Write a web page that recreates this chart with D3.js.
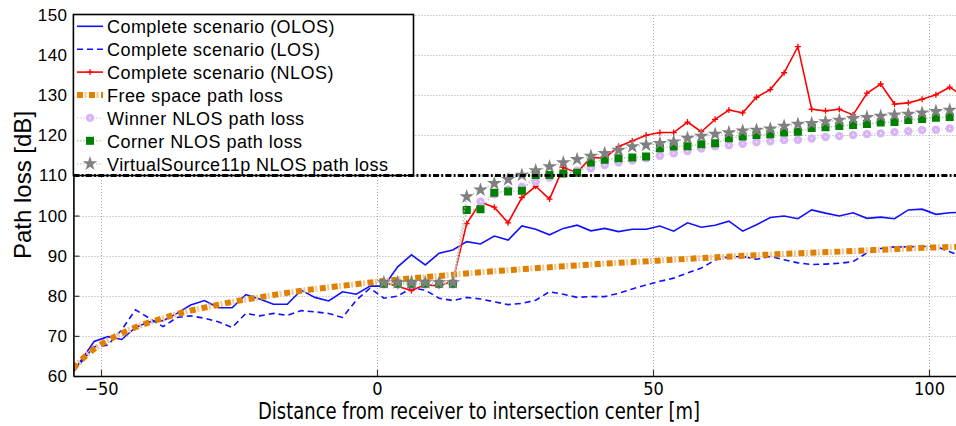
<!DOCTYPE html>
<html><head><meta charset="utf-8">
<script src="https://cdn.jsdelivr.net/npm/d3@7"></script>
<style>
body{margin:0;background:#fff;}
svg{display:block;font-family:"Liberation Sans",Arial,Helvetica,sans-serif;}
.narrow{font-family:"Liberation Sans Narrow","Arial Narrow","DejaVu Sans Condensed",sans-serif;}
</style>
</head><body>
<svg id="c" width="956" height="426"></svg>
<script>
// ---------------- data ----------------
const gridX = [-55, -51.25, -48.75, -46.25, -43.75, -41.25, -38.75, -36.25, -33.75, -31.25, -28.75, -26.25,
  -23.75, -21.25, -18.75, -16.25, -13.75, -11.25, -8.75, -6.25, -3.75, -1.25, 1.25, 3.75, 6.25, 8.75, 11.25,
  13.75, 16.25, 18.75, 21.25, 23.75, 26.25, 28.75, 31.25, 33.75, 36.25, 38.75, 41.25, 43.75, 46.25, 48.75,
  51.25, 53.75, 56.25, 58.75, 61.25, 63.75, 66.25, 68.75, 71.25, 73.75, 76.25, 78.75, 81.25, 83.75, 86.25,
  88.75, 91.25, 93.75, 96.25, 98.75, 101.25, 103.75, 106.25];
const olos = [61.1, 68.6, 69.8, 69.1, 72.1, 73.5, 73.8, 75.6, 77.7, 78.8, 77.0, 77.0,
  80.3, 79.2, 77.9, 77.9, 81.4, 79.6, 78.7, 81.0, 80.4, 82.4, 82.4, 87.2, 90.2, 87.7, 90.6,
  91.4, 93.5, 92.9, 94.9, 93.9, 97.4, 96.6, 95.2, 96.8, 97.6, 96.2, 96.8, 96.0, 96.6, 96.6,
  97.4, 96.1, 98.2, 97.1, 97.6, 98.6, 96.1, 97.7, 99.5, 99.9, 99.2, 101.4, 100.6, 99.9, 100.7,
  99.3, 99.6, 99.2, 101.4, 101.6, 100.3, 100.7, 100.8];
const los = [61.1, 67.3, 67.7, 71.5, 76.5, 74.4, 72.3, 74.6, 75.0, 74.4, 73.5, 72.1,
  75.6, 75.0, 75.6, 75.1, 76.3, 76.0, 75.6, 74.6, 78.9, 81.9, 79.4, 79.9, 82.0, 81.4, 79.4,
  78.8, 79.6, 79.2, 78.5, 77.8, 78.1, 78.9, 81.0, 80.4, 79.6, 79.8, 79.8, 80.6, 81.7, 82.7,
  83.6, 84.4, 85.7, 86.9, 88.9, 89.7, 89.8, 89.1, 89.8, 89.0, 88.2, 87.8, 87.9, 88.1, 88.5,
  90.7, 91.8, 92.2, 92.2, 92.3, 92.3, 91.0, 89.7];

const nlosX = [1.25, 3.75, 6.25, 8.75, 11.25, 13.75, 16.25, 18.75, 21.25, 23.75, 26.25, 28.75, 31.25,
  33.75, 36.25, 38.75, 41.25, 43.75, 46.25, 48.75, 51.25, 53.75, 56.25, 58.75, 61.25, 63.75, 66.25,
  68.75, 71.25, 73.75, 76.25, 78.75, 81.25, 83.75, 86.25, 88.75, 91.25, 93.75, 96.25, 98.75, 101.25,
  103.75, 106.25];
const nlos = [83.3, 82.4, 81.3, 82.8, 82.4, 83.7, 98.0, 103.3, 102.1, 98.2, 104.5, 107.3, 104.1,
  112.0, 110.7, 114.5, 114.3, 117.2, 118.6, 120.0, 120.7, 120.7, 123.3, 120.9, 124.0, 126.3, 125.6,
  129.5, 131.4, 135.6, 142.1, 126.5, 126.1, 126.5, 125.1, 130.5, 132.8, 127.8, 128.1, 129.0, 130.1,
  132.0, 129.7];

const modelX = [1.25, 3.75, 6.25, 8.75, 11.25, 13.75, 16.25, 18.75, 21.25, 23.75, 26.25, 28.75, 31.25,
  33.75, 36.25, 38.75, 41.25, 43.75, 46.25, 48.75, 51.25, 53.75, 56.25, 58.75, 61.25, 63.75, 66.25,
  68.75, 71.25, 73.75, 76.25, 78.75, 81.25, 83.75, 86.25, 88.75, 91.25, 93.75, 96.25, 98.75, 101.25,
  103.75];
const winner = [82.8, 82.8, 82.8, 82.8, 82.8, 82.8, 101.5, 103.5, 105.3, 106.5, 107.2, 108.4, 109.5,
  110.5, 111.2, 111.8, 112.6, 113.2, 113.7, 114.3, 114.9, 115.5, 116.1, 116.7, 117.3, 117.5, 117.9,
  118.3, 118.5, 118.8, 118.9, 119.2, 119.6, 119.8, 120.1, 120.3, 120.5, 120.8, 121.0, 121.3, 121.4,
  121.7];
const corner = [83.0, 83.0, 83.0, 83.0, 83.0, 83.0, 101.4, 101.6, 105.7, 106.0, 106.2, 110.1, 110.1,
  110.5, 110.7, 113.2, 113.9, 114.3, 114.5, 114.7, 116.8, 117.2, 117.3, 117.8, 118.0, 119.3, 119.7,
  120.1, 120.3, 120.7, 120.9, 121.8, 122.0, 122.3, 122.6, 122.8, 123.2, 123.3, 123.8, 124.1, 124.4,
  124.6];
const virtualSrc = [83.3, 83.3, 83.3, 83.3, 83.3, 83.3, 104.7, 106.4, 108.0, 109.0, 110.1, 111.2, 112.2,
  113.2, 114.0, 114.8, 115.5, 116.3, 117.2, 117.6, 118.0, 118.4, 119.3, 119.8, 120.3, 120.7, 121.1,
  121.3, 121.6, 122.3, 122.8, 123.0, 123.4, 123.8, 124.2, 124.5, 124.8, 125.1, 125.3, 125.6, 126.0,
  126.3];

const freeX = [-55, -52.5, -50, -47.5, -45, -42.5, -40, -35, -30, -25, -20, -15, -10, -5, 0, 5, 10, 15,
  20, 25, 30, 40, 50, 60, 70, 80, 90, 100, 105];
const freeSpace = [61.9, 65.4, 67.9, 69.8, 71.4, 72.8, 73.9, 75.9, 77.4, 78.8, 79.9, 81.0, 81.9, 82.7,
  83.5, 84.2, 84.8, 85.4, 86.0, 86.5, 87.0, 87.9, 88.7, 89.5, 90.2, 90.8, 91.4, 92.0, 92.2];

const threshold = 110;
const xTicks = [-50, 0, 50, 100];
const yTicks = [60, 70, 80, 90, 100, 110, 120, 130, 140, 150];
const legendNames = ["Complete scenario (OLOS)", "Complete scenario (LOS)", "Complete scenario (NLOS)",
  "Free space path loss", "Winner NLOS path loss", "Corner NLOS path loss", "VirtualSource11p NLOS path loss"];
const xLabel = "Distance from receiver to intersection center [m]";
const yLabel = "Path loss [dB]";

// ---------------- drawing ----------------
const svg = d3.select("#c");
const X0 = 73.4, X1 = 956.6, Y0 = 376, Y1 = 15;
const x = d3.scaleLinear().domain([-55, 105]).range([X0, X1]);
const y = d3.scaleLinear().domain([60, 150]).range([Y0, Y1]);

const C = {
  blue: "#1010ff", red: "#ff0000", orange: "#e07f00", orangeL: "#f5c690",
  lav: "#d7b5f5", lavL: "#e8d6fa", green: "#008000", greenL: "#9fd09f",
  gray: "#808080", grayL: "#c4c4c4"
};

svg.append("defs").append("clipPath").attr("id", "clip")
  .append("rect").attr("x", X0).attr("y", Y1).attr("width", X1 - X0).attr("height", Y0 - Y1);

// grid
const grid = svg.append("g").attr("stroke", "#a8a8a8").attr("stroke-width", 1).attr("stroke-dasharray", "1,2");
grid.selectAll("line.h").data(yTicks.filter(t => t > 60)).join("line")
  .attr("x1", X0).attr("x2", X1).attr("y1", d => Math.round(y(d)) + 0.5).attr("y2", d => Math.round(y(d)) + 0.5);
grid.selectAll("line.v").data(xTicks).join("line")
  .attr("y1", Y1).attr("y2", Y0).attr("x1", d => Math.round(x(d)) + 0.5).attr("x2", d => Math.round(x(d)) + 0.5);

const plot = svg.append("g").attr("clip-path", "url(#clip)");
const line = (xs) => d3.line().x((d, i) => x(xs[i])).y(d => y(d));

// OLOS
plot.append("path").datum(olos).attr("d", line(gridX)).attr("fill", "none")
  .attr("stroke", C.blue).attr("stroke-width", 1.6);
// LOS
plot.append("path").datum(los).attr("d", line(gridX)).attr("fill", "none")
  .attr("stroke", C.blue).attr("stroke-width", 1.6).attr("stroke-dasharray", "6,4");
// NLOS
plot.append("path").datum(nlos).attr("d", line(nlosX)).attr("fill", "none")
  .attr("stroke", C.red).attr("stroke-width", 1.6);
const plus = (g, cx, cy, col) => {
  g.append("path").attr("d", `M${cx - 3},${cy}H${cx + 3}M${cx},${cy - 3}V${cy + 3}`)
    .attr("stroke", col).attr("stroke-width", 1.3);
};
nlos.forEach((v, i) => plus(plot, x(nlosX[i]), y(v), C.red));

// Free space
const fsLine = d3.line().curve(d3.curveMonotoneX).x((d, i) => x(freeX[i])).y(d => y(d));
plot.append("path").datum(freeSpace).attr("d", fsLine).attr("fill", "none")
  .attr("stroke", C.orangeL).attr("stroke-width", 6).attr("stroke-dasharray", "0,7.5,2,2.5");
plot.append("path").datum(freeSpace).attr("d", fsLine).attr("fill", "none")
  .attr("stroke", C.orange).attr("stroke-width", 6).attr("stroke-dasharray", "6,6");

// model series
function model(vals, lightCol, drawMarker) {
  plot.append("path").datum(vals).attr("d", line(modelX)).attr("fill", "none")
    .attr("stroke", lightCol).attr("stroke-width", 1.6).attr("stroke-dasharray", "1.2,2");
  vals.forEach((v, i) => drawMarker(plot, x(modelX[i]), y(v)));
}
const circleM = (g, cx, cy) => {
  g.append("circle").attr("cx", cx).attr("cy", cy).attr("r", 4.2).attr("fill", C.lav);
  g.append("circle").attr("cx", cx).attr("cy", cy).attr("r", 0.8).attr("fill", "#fff");
};
const squareM = (g, cx, cy) => {
  g.append("path").attr("transform", `translate(${cx},${cy})`)
    .attr("d", d3.symbol(d3.symbolSquare, 64)()).attr("fill", C.green);
};
const starM = (g, cx, cy) => {
  g.append("path").attr("transform", `translate(${cx},${cy})`)
    .attr("d", d3.symbol(d3.symbolStar, 66)()).attr("fill", C.gray);
};
model(winner, C.lavL, circleM);
model(corner, C.greenL, squareM);
model(virtualSrc, C.grayL, starM);

// axes
const yAxis = d3.axisLeft(y).tickValues(yTicks).tickSizeInner(-6).tickSizeOuter(0).tickPadding(6);
const gy = svg.append("g").attr("transform", `translate(${X0},0)`).call(yAxis);
gy.select(".domain").attr("stroke", "#000").attr("stroke-width", 1.6);
gy.selectAll(".tick line").attr("stroke", "#333").attr("stroke-width", 1.2);
gy.selectAll("text").attr("font-size", 17).attr("letter-spacing", 0.4).attr("fill", "#000")
  .attr("font-family", '"Liberation Sans",Arial,sans-serif');

const xAxis = d3.axisBottom(x).tickValues(xTicks).tickSizeInner(-6).tickSizeOuter(0).tickPadding(6);
const gx = svg.append("g").attr("transform", `translate(0,${Y0})`).call(xAxis);
gx.select(".domain").attr("stroke", "#000").attr("stroke-width", 1.6);
gx.selectAll(".tick line").attr("stroke", "#333").attr("stroke-width", 1.2);
gx.selectAll("text").attr("class", "narrow").attr("font-size", 18).attr("fill", "#000");

svg.append("text").attr("class", "narrow").attr("x", 479).attr("y", 419).attr("text-anchor", "middle")
  .attr("font-size", 23).attr("textLength", 442).attr("lengthAdjust", "spacingAndGlyphs").text(xLabel);
svg.append("text").attr("transform", "translate(31,185) rotate(-90)").attr("text-anchor", "middle")
  .attr("font-size", 24).text(yLabel);

// legend
const lg = svg.append("g");
lg.append("rect").attr("x", X0).attr("y", 14.5).attr("width", 413.5 - X0).attr("height", 161)
  .attr("fill", "#fff").attr("stroke", "#000").attr("stroke-width", 1.6);
const sx0 = 77, sx1 = 103, sxm = 90;
legendNames.forEach((name, i) => {
  const base = 33.3 + 22.9 * i, cy = base - 7;
  const g = lg.append("g");
  if (i === 0) g.append("line").attr("x1", sx0).attr("x2", sx1).attr("y1", cy).attr("y2", cy).attr("stroke", C.blue).attr("stroke-width", 1.6);
  if (i === 1) g.append("line").attr("x1", sx0).attr("x2", sx1).attr("y1", cy).attr("y2", cy).attr("stroke", C.blue).attr("stroke-width", 1.6).attr("stroke-dasharray", "6,4");
  if (i === 2) { g.append("line").attr("x1", sx0).attr("x2", sx1).attr("y1", cy).attr("y2", cy).attr("stroke", C.red).attr("stroke-width", 1.6); plus(g, sxm, cy, C.red); }
  if (i === 3) {
    g.append("line").attr("x1", sx0).attr("x2", sx1).attr("y1", cy).attr("y2", cy).attr("stroke", C.orangeL).attr("stroke-width", 6).attr("stroke-dasharray", "0,7.5,2,2.5");
    g.append("line").attr("x1", sx0).attr("x2", sx1).attr("y1", cy).attr("y2", cy).attr("stroke", C.orange).attr("stroke-width", 6).attr("stroke-dasharray", "6,6");
  }
  if (i >= 4) {
    const col = [C.lavL, C.greenL, C.grayL][i - 4];
    g.append("line").attr("x1", sx0).attr("x2", sx1).attr("y1", cy).attr("y2", cy).attr("stroke", col).attr("stroke-width", 1.6).attr("stroke-dasharray", "1.2,2");
    [circleM, squareM, starM][i - 4](g, sxm, cy);
  }
  g.append("text").attr("x", 107).attr("y", base).attr("font-size", 18).attr("letter-spacing", 0.45)
    .attr("fill", "#000").text(name);
});

// threshold line at 110 dB
svg.append("line").attr("x1", X0).attr("x2", X1).attr("y1", y(threshold)).attr("y2", y(threshold))
  .attr("stroke", "#000").attr("stroke-width", 3).attr("stroke-dasharray", "6,2.3,1.8,2.3");
</script>
</body></html>
